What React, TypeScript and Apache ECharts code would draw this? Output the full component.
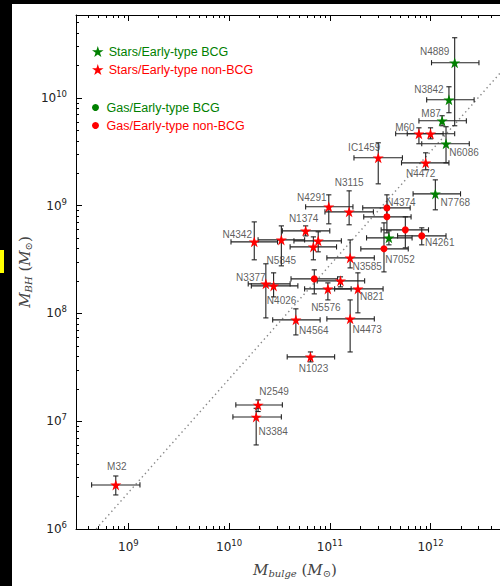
import React, { useEffect, useRef } from 'react';
import * as echarts from 'echarts';

// Values are log10 of the masses (M_sun): [name, x, y, xLow, xHigh, yLow, yHigh]
type Row = [string, number, number, number, number, number, number];

const starsBCG: Row[] = [
  ['N4889', 12.24, 10.327, 12.01, 12.481, 9.742, 10.559],
  ['N3842', 12.183, 9.983, 11.962, 12.433, 9.863, 10.104],
  ['M87', 12.115, 9.788, 11.885, 12.356, 9.742, 9.835],
  ['N6086', 12.154, 9.575, 11.913, 12.385, 9.398, 9.733],
  ['N7768', 12.048, 9.11, 11.827, 12.298, 8.962, 9.24],
  ['', 11.587, 8.702, 11.365, 11.817, 8.637, 8.767],
];

const starsNonBCG: Row[] = [
  ['M32', 8.875, 6.409, 8.635, 9.115, 6.316, 6.492],
  ['N2549', 10.288, 7.151, 10.067, 10.529, 7.09, 7.198],
  ['N3384', 10.269, 7.04, 10.038, 10.519, 6.78, 7.12],
  ['N1023', 10.808, 7.597, 10.577, 11.048, 7.551, 7.643],
  ['N4564', 10.663, 7.941, 10.433, 10.904, 7.801, 8.043],
  ['N4473', 11.202, 7.95, 10.971, 11.442, 7.643, 8.126],
  ['N821', 11.279, 8.228, 11.048, 11.529, 8.006, 8.377],
  ['N5576', 10.981, 8.228, 10.75, 11.212, 8.126, 8.284],
  ['', 11.106, 8.303, 10.875, 11.346, 8.247, 8.34],
  ['N3377', 10.365, 8.275, 10.19, 10.606, 7.959, 8.461],
  ['N4026', 10.442, 8.256, 10.221, 10.683, 8.154, 8.377],
  ['N3585', 11.202, 8.516, 10.971, 11.442, 8.423, 8.683],
  ['N5845', 10.519, 8.683, 10.288, 10.75, 8.442, 8.813],
  ['N4342', 10.25, 8.665, 10.019, 10.481, 8.498, 8.85],
  ['N1374', 10.76, 8.767, 10.529, 11.0, 8.72, 8.813],
  ['', 10.885, 8.674, 10.644, 11.115, 8.572, 8.758],
  ['', 10.837, 8.618, 10.606, 11.067, 8.498, 8.711],
  ['N4291', 10.99, 8.99, 10.76, 11.23, 8.832, 9.101],
  ['N3115', 11.192, 8.943, 10.952, 11.433, 8.823, 9.138],
  ['IC1459', 11.481, 9.445, 11.24, 11.721, 9.203, 9.584],
  ['N4472', 11.952, 9.398, 11.712, 12.183, 9.333, 9.491],
  ['M60', 11.885, 9.668, 11.654, 12.125, 9.575, 9.723],
  ['', 12.0, 9.668, 11.769, 12.24, 9.621, 9.723],
];

const gasBCG: Row[] = [];

const gasNonBCG: Row[] = [
  ['N4374', 11.567, 8.98, 11.327, 11.798, 8.916, 9.101],
  ['', 11.567, 8.897, 11.337, 11.807, 8.748, 8.962],
  ['N7052', 11.538, 8.6, 11.308, 11.779, 8.386, 8.841],
  ['', 11.75, 8.776, 11.51, 11.98, 8.609, 8.897],
  ['N4261', 11.913, 8.72, 11.673, 12.154, 8.637, 8.795],
  ['', 10.846, 8.321, 10.615, 11.077, 8.182, 8.405],
];

// dotted relation line (log10 endpoints)
const relationLine: [number, number][] = [
  [8.68, 6.0],
  [12.69, 10.23],
];

const xRange = [8.48, 12.69];
const yRange = [6, 10.77];
const xMajor = [9, 10, 11, 12];
const yMajor = [6, 7, 8, 9, 10];

const minorTicks = (lo: number, hi: number) => {
  const out: number[] = [];
  for (let d = Math.floor(lo); d <= Math.ceil(hi); d++) {
    for (let k = 2; k <= 9; k++) {
      const v = d + Math.log10(k);
      if (v > lo && v < hi) out.push(v);
    }
  }
  return out;
};

// label offsets in px relative to the marker centre (style only)
const labelOffsets: Record<string, [number, number]> = {
  M32: [1, -18], N2549: [16, -13], N3384: [17, 15], N1023: [3, 12], N4564: [18, 11],
  N4473: [17, 11], N821: [14, 8], N5576: [-2, 19], N3377: [-15, -6], N4026: [8, 15],
  N3585: [17, 9], N5845: [0, 21], N4342: [-17, -7], N1374: [-2, -12], N4291: [-17, -9],
  N3115: [0, -29], N4374: [14, -5], N7052: [16, 11], N4261: [18, 7], N7768: [20, 9],
  IC1459: [-14, -10], N4472: [-5, 11], M60: [-14, -6], M87: [-11, -7], N6086: [18, 9],
  N3842: [-20, -10], N4889: [-20, -11],
};

const STAR = 'path://M50,0 L61.2,34.5 L97.6,34.5 L68.2,55.9 L79.4,90.5 L50,69.1 L20.6,90.5 L31.8,55.9 L2.4,34.5 L38.8,34.5 Z';
const GREEN = '#008000';
const RED = '#ff0000';

const tickRich = {
  b: { fontSize: 12, fontFamily: 'DejaVu Sans', color: '#222' },
  s: { fontSize: 8.5, fontFamily: 'DejaVu Sans', color: '#222', padding: [0, 0, 8, 0] },
};

export default function App() {
  const ref = useRef<HTMLDivElement>(null);
  useEffect(() => {
    if (!ref.current) return;
    const chart = echarts.init(ref.current, undefined, { renderer: 'svg' });
    const all = [...starsBCG, ...starsNonBCG, ...gasBCG, ...gasNonBCG];
    const xMinor = minorTicks(xRange[0], xRange[1]);
    const yMinor = minorTicks(yRange[0], yRange[1]);

    const baseX = (extra: any) => ({
      type: 'value', min: xRange[0], max: xRange[1], splitLine: { show: false },
      axisLine: { show: false, onZero: false, lineStyle: { color: '#000', width: 1 } },
      axisLabel: { show: false },
      ...extra,
    });
    const baseY = (extra: any) => ({
      type: 'value', min: yRange[0], max: yRange[1], splitLine: { show: false },
      axisLine: { show: false, onZero: false, lineStyle: { color: '#000', width: 1 } },
      axisLabel: { show: false },
      ...extra,
    });

    const errStyle = { stroke: '#222', lineWidth: 1.1 };
    const cap = 2.6;

    const seriesFor = (rows: Row[], name: string, symbol: string, color: string, size: number) => ({
      type: 'scatter', name, symbol, symbolSize: size, z: 4,
      itemStyle: { color, opacity: 1 },
      data: rows.map((r) => [r[1], r[2]]),
    });

    const option: any = {
      animation: false,
      backgroundColor: '#ffffff',
      grid: { left: 76, top: 15, bottom: 57, right: -14, containLabel: false },
      legend: [
        {
          orient: 'vertical', left: 92, top: 45, padding: 0, itemGap: 5,
          itemWidth: 12, itemHeight: 11, selectedMode: false,
          textStyle: { fontFamily: 'Liberation Sans', fontSize: 12.5, lineHeight: 12 },
          data: [
            { name: 'Stars/Early-type BCG', textStyle: { color: GREEN } },
            { name: 'Stars/Early-type non-BCG', textStyle: { color: RED } },
          ],
        },
        {
          orient: 'vertical', left: 92, top: 101, padding: 0, itemGap: 5,
          itemWidth: 12, itemHeight: 7, selectedMode: false,
          textStyle: { fontFamily: 'Liberation Sans', fontSize: 12.5, lineHeight: 12 },
          data: [
            { name: 'Gas/Early-type BCG', icon: 'circle', textStyle: { color: GREEN } },
            { name: 'Gas/Early-type non-BCG', icon: 'circle', textStyle: { color: RED } },
          ],
        },
      ],
      xAxis: [
        baseX({
          position: 'bottom',
          axisLine: { show: true, onZero: false, lineStyle: { color: '#000', width: 1 } },
          axisTick: { show: true, inside: true, length: 6, customValues: xMajor, lineStyle: { color: '#000' } },
          axisLabel: { show: true, customValues: xMajor, margin: 9, formatter: (v: number) => `{b|10}{s|${v}}`, rich: tickRich },
        }),
        baseX({ position: 'bottom', axisTick: { show: true, inside: true, length: 3, customValues: xMinor, lineStyle: { color: '#000' } } }),
        baseX({
          position: 'top',
          axisLine: { show: true, onZero: false, lineStyle: { color: '#000', width: 1 } },
          axisTick: { show: true, inside: true, length: 6, customValues: xMajor, lineStyle: { color: '#000' } },
        }),
        baseX({ position: 'top', axisTick: { show: true, inside: true, length: 3, customValues: xMinor, lineStyle: { color: '#000' } } }),
      ],
      yAxis: [
        baseY({
          position: 'left',
          axisLine: { show: true, onZero: false, lineStyle: { color: '#000', width: 1 } },
          axisTick: { show: true, inside: true, length: 6, customValues: yMajor, lineStyle: { color: '#000' } },
          axisLabel: { show: true, customValues: yMajor, margin: 9, formatter: (v: number) => `{b|10}{s|${v}}`, rich: tickRich },
        }),
        baseY({ position: 'left', axisTick: { show: true, inside: true, length: 3, customValues: yMinor, lineStyle: { color: '#000' } } }),
      ],
      graphic: [
        { type: 'rect', shape: { x: 0, y: 0, width: 12, height: 586 }, style: { fill: '#000' } },
        { type: 'rect', shape: { x: 0, y: 0, width: 500, height: 4 }, style: { fill: '#000' } },
        { type: 'rect', shape: { x: 0, y: 250, width: 4, height: 23 }, style: { fill: '#ffff00' } },
        {
          type: 'text', x: 295, y: 570,
          style: {
            text: '{m|M}{sub|bulge}{t| (}{m|M}{sub|⊙}{t|)}',
            align: 'center', verticalAlign: 'middle',
            rich: {
              m: { fontFamily: 'DejaVu Serif', fontStyle: 'italic', fontSize: 15, fill: '#444' },
              t: { fontFamily: 'DejaVu Serif', fontSize: 15, fill: '#444' },
              sub: { fontFamily: 'DejaVu Serif', fontStyle: 'italic', fontSize: 10, fill: '#444', padding: [7, 0, 0, 0] },
            },
          },
        },
        {
          type: 'text', x: 25, y: 272, rotation: Math.PI / 2,
          style: {
            text: '{m|M}{sub|BH}{t| (}{m|M}{sub|⊙}{t|)}',
            align: 'center', verticalAlign: 'middle',
            rich: {
              m: { fontFamily: 'DejaVu Serif', fontStyle: 'italic', fontSize: 15, fill: '#444' },
              t: { fontFamily: 'DejaVu Serif', fontSize: 15, fill: '#444' },
              sub: { fontFamily: 'DejaVu Serif', fontStyle: 'italic', fontSize: 10, fill: '#444', padding: [7, 0, 0, 0] },
            },
          },
        },
      ],
      series: [
        {
          type: 'line', name: 'relation', data: relationLine, symbol: 'none', z: 1, silent: true,
          lineStyle: { color: '#888', width: 1.4, type: [1.4, 3.2] },
        },
        {
          type: 'custom', name: 'errors', z: 2, silent: true,
          data: all.map((r) => [r[1], r[2], r[3], r[4], r[5], r[6]]),
          renderItem: (_p: any, api: any) => {
            const x = api.value(0), y = api.value(1);
            const pL = api.coord([api.value(2), y]);
            const pR = api.coord([api.value(3), y]);
            const pB = api.coord([x, api.value(4)]);
            const pT = api.coord([x, api.value(5)]);
            const ln = (x1: number, y1: number, x2: number, y2: number) => ({
              type: 'line', shape: { x1, y1, x2, y2 }, style: errStyle,
            });
            return {
              type: 'group',
              children: [
                ln(pL[0], pL[1], pR[0], pR[1]),
                ln(pL[0], pL[1] - cap, pL[0], pL[1] + cap),
                ln(pR[0], pR[1] - cap, pR[0], pR[1] + cap),
                ln(pT[0], pT[1], pB[0], pB[1]),
                ln(pT[0] - cap, pT[1], pT[0] + cap, pT[1]),
                ln(pB[0] - cap, pB[1], pB[0] + cap, pB[1]),
              ],
            };
          },
        },
        seriesFor(starsBCG, 'Stars/Early-type BCG', STAR, GREEN, 11),
        seriesFor(starsNonBCG, 'Stars/Early-type non-BCG', STAR, RED, 11),
        seriesFor(gasBCG, 'Gas/Early-type BCG', 'circle', GREEN, 7),
        seriesFor(gasNonBCG, 'Gas/Early-type non-BCG', 'circle', RED, 7),
        {
          type: 'scatter', name: 'labels', symbolSize: 1, z: 5, silent: true,
          itemStyle: { color: 'rgba(0,0,0,0)' },
          label: { show: true, position: 'inside', formatter: '{b}', color: '#333', fontSize: 10, fontFamily: 'Liberation Sans' },
          data: all.filter((r) => r[0]).map((r) => ({
            name: r[0], value: [r[1], r[2]],
            label: { offset: labelOffsets[r[0]] || [0, 0] },
          })),
        },
      ],
    };
    chart.setOption(option);
    return () => chart.dispose();
  }, []);
  return (
    <div style={{ position: 'absolute', left: 0, top: 0, width: 500, height: 586 }}>
      <div ref={ref} style={{ width: 500, height: 586 }} />
    </div>
  );
}
